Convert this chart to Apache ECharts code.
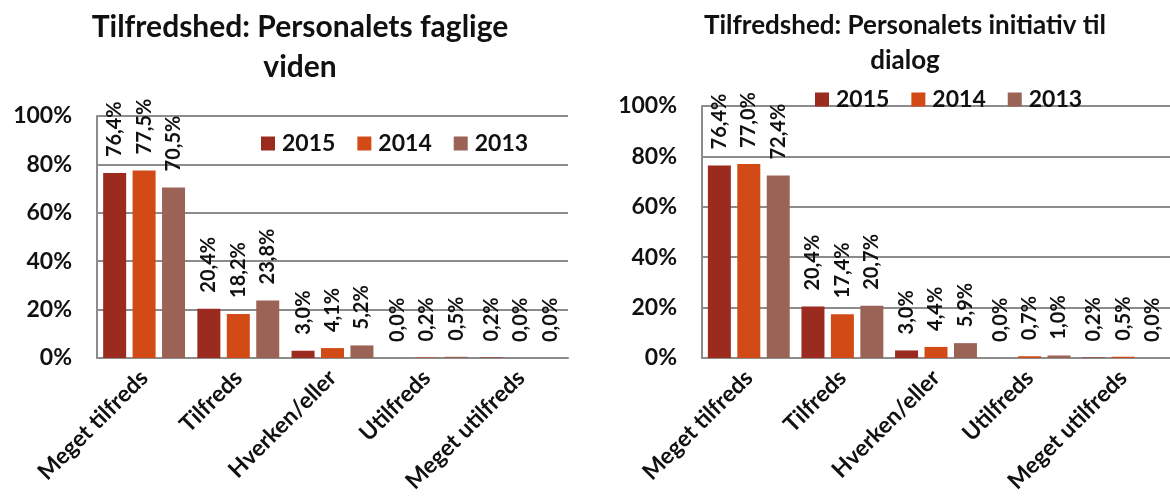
<!DOCTYPE html>
<html>
<head>
  <meta charset="utf-8">
  <title>Tilfredshed</title>
  <script src="https://cdn.jsdelivr.net/npm/echarts@6/dist/echarts.min.js"></script>
  <style>
    html, body { margin: 0; padding: 0; background: #fff; }
    #chart { width: 1170px; height: 501px; }
  </style>
</head>
<body>
<div id="chart"></div>
<script>
  // kategorier og år
  let categories = ['Meget tilfreds', 'Tilfreds', 'Hverken/eller', 'Utilfreds', 'Meget utilfreds'];
  let years = ['2015', '2014', '2013'];
  let yTicks = [0, 20, 40, 60, 80, 100];

  // Personalets faglige viden
  let viden2015 = [76.4, 20.4, 3.0, 0.0, 0.2];
  let viden2014 = [77.5, 18.2, 4.1, 0.2, 0.0];
  let viden2013 = [70.5, 23.8, 5.2, 0.5, 0.0];

  // Personalets initiativ til dialog
  let dialog2015 = [76.4, 20.4, 3.0, 0.0, 0.2];
  let dialog2014 = [77.0, 17.4, 4.4, 0.7, 0.5];
  let dialog2013 = [72.4, 20.7, 5.9, 1.0, 0.0];

  let colors = ['#9c2b1f', '#d24b17', '#9a6355'];
  let font = 'Lato, "Open Sans", sans-serif';
  let gridColor = '#8c8c8c';

  let myChart = echarts.init(document.getElementById('chart'));

  function fmt(v) {
    return v.toFixed(1).replace('.', ',') + '%';
  }

  function xAxis(gridIndex) {
    return {
      type: 'category',
      gridIndex: gridIndex,
      data: categories,
      axisTick: { show: false },
      axisLine: { lineStyle: { color: gridColor, width: 2 } },
      axisLabel: {
        interval: 0,
        rotate: 45,
        margin: 16,
        color: '#111',
        fontFamily: font,
        fontWeight: 'bold',
        fontSize: 23
      }
    };
  }

  function yAxis(gridIndex) {
    return {
      type: 'value',
      gridIndex: gridIndex,
      min: yTicks[0],
      max: yTicks[yTicks.length - 1],
      interval: 20,
      axisLine: { show: true, lineStyle: { color: gridColor, width: 2 } },
      axisTick: { show: false },
      splitLine: { lineStyle: { color: gridColor, width: 2 } },
      axisLabel: {
        margin: 25,
        color: '#111',
        fontFamily: font,
        fontWeight: 'bold',
        fontSize: 23,
        formatter: '{value}%'
      }
    };
  }

  function bar(name, data, idx, color) {
    return {
      name: name,
      type: 'bar',
      xAxisIndex: idx,
      yAxisIndex: idx,
      data: data,
      barWidth: 23,
      barGap: '28%',
      itemStyle: { color: color },
      label: {
        show: true,
        position: 'top',
        rotate: 90,
        align: 'left',
        verticalAlign: 'middle',
        distance: 16,
        color: '#111',
        fontFamily: font,
        fontWeight: 'bold',
        fontSize: 20,
        formatter: function (p) { return fmt(p.value); }
      }
    };
  }

  function legend(left, top) {
    return {
      data: years,
      left: left,
      top: top,
      icon: 'rect',
      itemWidth: 14,
      itemHeight: 14,
      itemGap: 22,
      selectedMode: false,
      textStyle: { color: '#111', fontFamily: font, fontWeight: 'bold', fontSize: 23, padding: [0, 0, 0, 2] }
    };
  }

  myChart.setOption({
    animation: false,
    title: [
      {
        text: 'Tilfredshed: Personalets faglige\nviden',
        left: 295,
        top: 2,
        textAlign: 'center',
        textStyle: { fontFamily: font, fontWeight: 'bold', fontSize: 30, lineHeight: 40, color: '#111' }
      },
      {
        text: 'Tilfredshed: Personalets initiativ til\ndialog',
        left: 900,
        top: 3,
        textAlign: 'center',
        textStyle: { fontFamily: font, fontWeight: 'bold', fontSize: 26, lineHeight: 35, color: '#111' }
      }
    ],
    legend: [legend(256, 127), legend(810, 83)],
    grid: [
      { left: 97, top: 116, width: 471, height: 242 },
      { left: 702, top: 106, width: 470, height: 252 }
    ],
    xAxis: [xAxis(0), xAxis(1)],
    yAxis: [yAxis(0), yAxis(1)],
    series: [
      bar(years[0], viden2015, 0, colors[0]),
      bar(years[1], viden2014, 0, colors[1]),
      bar(years[2], viden2013, 0, colors[2]),
      bar(years[0], dialog2015, 1, colors[0]),
      bar(years[1], dialog2014, 1, colors[1]),
      bar(years[2], dialog2013, 1, colors[2])
    ]
  });
  window.addEventListener('resize', myChart.resize);
</script>
</body>
</html>
